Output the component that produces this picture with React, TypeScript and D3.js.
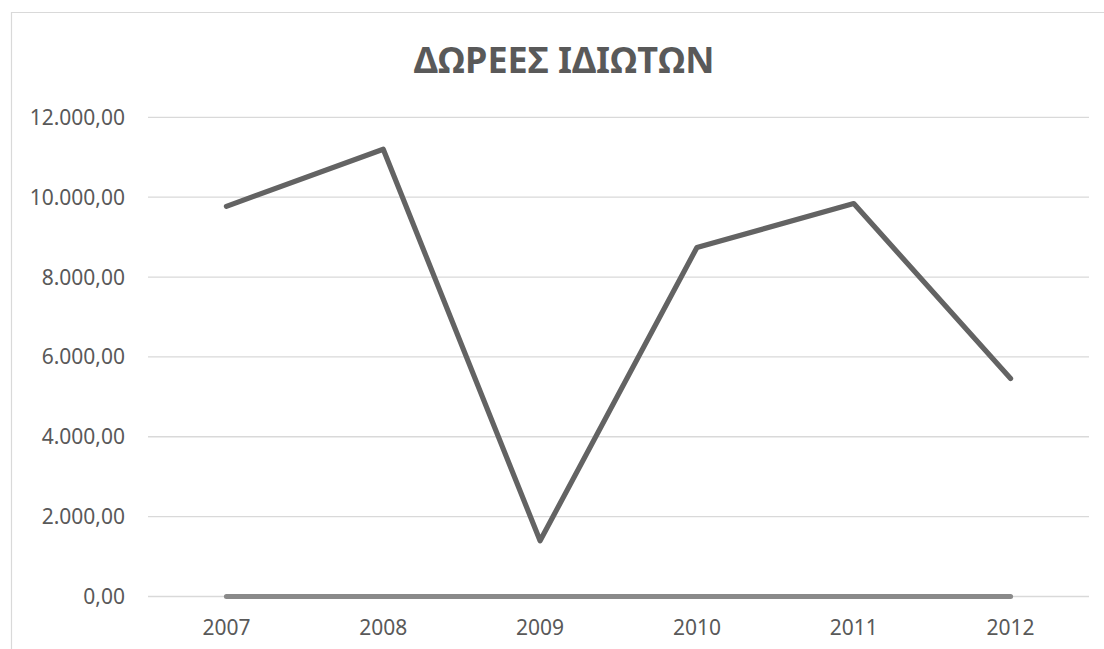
import React from "react";
import * as d3 from "d3";

const years = ["2007", "2008", "2009", "2010", "2011", "2012"];
const donations = [9770, 11200, 1395, 8740, 9840, 5460];
const secondSeries = [0, 0, 0, 0, 0, 0];
const yTicks = [0, 2000, 4000, 6000, 8000, 10000, 12000];
const title = "ΔΩΡΕΕΣ ΙΔΙΩΤΩΝ";

const W = 1104;
const H = 649;
const plotLeft = 148;
const plotRight = 1089;
const plotTop = 117.3;
const plotBottom = 596.5;

const locale = d3.formatLocale({
  decimal: ",",
  thousands: ".",
  grouping: [3],
  currency: ["", "€"],
});
const fmt = locale.format(",.2f");

export default function App() {
  const x = d3.scaleBand<string>().domain(years).range([plotLeft, plotRight]);
  const y = d3.scaleLinear().domain([0, 12000]).range([plotBottom, plotTop]);
  const cx = (d: string) => (x(d) as number) + x.bandwidth() / 2;

  const line = d3
    .line<number>()
    .x((_, i) => cx(years[i]))
    .y((v) => y(v));

  const font = "'Noto Sans', 'Open Sans', sans-serif";
  const textColor = "#595959";

  return (
    <svg
      width={W}
      height={H}
      style={{ position: "absolute", left: 0, top: 0, background: "#fff" }}
    >
      <rect x={0} y={0} width={W} height={H} fill="#fff" />
      {/* chart frame */}
      <path
        d={`M11.5,${H} L11.5,12.5 L${W},12.5`}
        fill="none"
        stroke="#d9d9d9"
        strokeWidth={1.2}
      />
      <text
        x={564}
        y={73}
        textAnchor="middle"
        fontFamily={font}
        fontWeight={700}
        fontSize={36}
        fill={textColor}
      >
        {title}
      </text>
      {/* gridlines */}
      {yTicks.map((t) => (
        <line
          key={t}
          x1={plotLeft}
          x2={plotRight}
          y1={y(t)}
          y2={y(t)}
          stroke="#d9d9d9"
          strokeWidth={1.3}
        />
      ))}
      {/* y tick labels */}
      {yTicks.map((t) => (
        <text
          key={"l" + t}
          x={125}
          y={y(t) + 7.5}
          textAnchor="end"
          fontFamily={font}
          fontSize={21}
          fill={textColor}
        >
          {fmt(t)}
        </text>
      ))}
      {/* x labels */}
      {years.map((yr) => (
        <text
          key={yr}
          x={cx(yr)}
          y={635}
          textAnchor="middle"
          fontFamily={font}
          fontSize={21}
          fill={textColor}
        >
          {yr}
        </text>
      ))}
      {/* second series (zero) */}
      <path
        d={line(secondSeries) || ""}
        fill="none"
        stroke="#8a8a8a"
        strokeWidth={5}
        strokeLinecap="round"
        strokeLinejoin="round"
      />
      {/* main series */}
      <path
        d={line(donations) || ""}
        fill="none"
        stroke="#636363"
        strokeWidth={5.2}
        strokeLinecap="round"
        strokeLinejoin="round"
      />
    </svg>
  );
}
